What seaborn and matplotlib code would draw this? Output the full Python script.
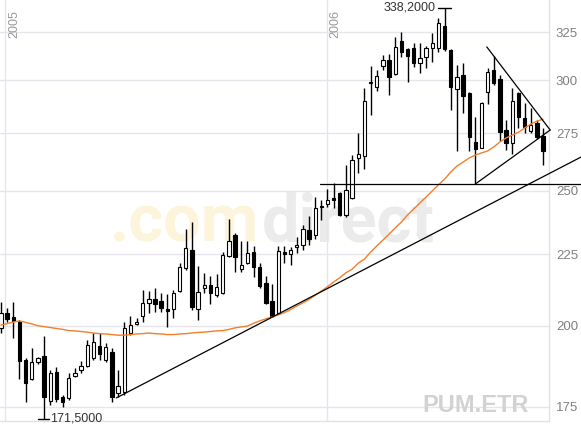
import numpy as np
import pandas as pd
import matplotlib
matplotlib.use("Agg")
import matplotlib.pyplot as plt
import matplotlib.dates as mdates
from matplotlib.ticker import NullLocator
import seaborn as sns

# weekly candles PUM.ETR, first week starts 27.12.2004
start = "2004-12-27"
opens = [199.3, 204.2, 202.9, 201.2, 189.0, 183.2, 188.4, 190.3, 176.6, 185.3,
         177.8, 177.5, 184.1, 185.9, 187.1, 189.6, 193.4, 189.0, 191.5, 179.0,
         179.3, 197.6, 200.6, 203.2, 207.7, 209.1, 208.4, 205.7, 205.7, 211.8,
         220.0, 226.7, 205.7, 212.9, 213.9, 210.5, 211.1, 224.4, 232.3, 219.6,
         221.8, 225.9, 220.4, 214.6, 208.4, 204.2, 225.9, 225.2, 227.8, 228.5,
         234.3, 232.3, 243.8, 244.6, 246.9, 249.0, 240.2, 246.9, 263.9, 264.7,
         298.5, 296.8, 307.3, 310.3, 303.2, 320.2, 316.0, 316.5, 309.0, 311.9,
         316.5, 316.5, 328.3, 315.5, 295.8, 302.7, 293.9, 271.0, 268.3, 294.3,
         305.2, 300.7, 276.4, 270.6, 293.9, 281.9, 276.0, 279.5, 273.7]
highs = [208.0, 206.0, 208.0, 201.9, 189.6, 192.7, 190.0, 196.6, 185.9, 186.8,
         178.4, 185.0, 186.5, 188.7, 195.3, 197.6, 197.6, 194.4, 192.7, 185.9,
         201.2, 203.2, 202.6, 212.2, 211.9, 212.9, 211.1, 210.8, 212.2, 221.8,
         234.7, 237.4, 220.7, 218.2, 217.1, 217.8, 225.9, 238.6, 233.0, 230.0,
         230.0, 228.2, 221.8, 217.1, 214.3, 228.2, 228.2, 227.8, 231.5, 236.3,
         239.8, 247.4, 246.2, 250.7, 253.2, 249.5, 260.9, 265.2, 275.0, 296.3,
         307.3, 305.2, 312.9, 313.4, 322.4, 325.0, 316.3, 319.1, 319.1, 317.6,
         324.5, 332.6, 338.2, 315.8, 307.8, 308.8, 294.2, 282.4, 289.3, 306.3,
         312.5, 302.7, 281.0, 296.3, 294.2, 289.1, 286.7, 281.0, 277.3]
lows = [197.6, 201.2, 196.0, 183.2, 176.3, 182.9, 187.7, 171.5, 175.5, 176.3,
        174.9, 176.9, 183.8, 185.0, 186.8, 189.0, 189.0, 188.4, 176.3, 177.8,
        178.4, 196.9, 200.2, 201.2, 204.2, 204.6, 204.6, 199.6, 202.6, 211.5,
        219.3, 205.3, 201.9, 211.1, 207.3, 209.8, 210.8, 224.1, 218.6, 218.6,
        221.5, 216.8, 212.9, 207.3, 202.9, 203.9, 221.8, 221.1, 225.5, 226.7,
        228.5, 230.8, 238.2, 243.4, 243.0, 239.8, 239.4, 246.5, 257.4, 259.1,
        283.3, 294.8, 305.2, 292.7, 302.7, 312.0, 299.2, 306.8, 303.7, 306.3,
        309.3, 314.5, 315.0, 285.7, 267.0, 284.3, 266.9, 253.0, 268.1, 288.6,
        297.6, 271.4, 267.4, 265.6, 277.3, 275.0, 275.0, 272.3, 260.9]
closes = [204.2, 202.2, 201.6, 188.7, 182.0, 188.4, 189.6, 177.8, 185.0, 177.2,
          176.3, 183.5, 185.0, 187.1, 193.7, 194.7, 190.9, 193.1, 177.8, 181.1,
          199.3, 200.2, 201.2, 207.7, 209.1, 207.3, 206.0, 205.0, 211.1, 220.4,
          227.4, 206.3, 211.5, 213.9, 211.1, 213.2, 224.8, 230.0, 224.1, 221.1,
          225.5, 220.4, 213.6, 207.7, 203.2, 226.3, 225.2, 226.7, 228.5, 234.7,
          230.8, 243.0, 243.4, 246.2, 246.4, 240.2, 250.3, 263.1, 265.6, 290.0,
          299.2, 302.2, 310.3, 301.7, 317.1, 314.5, 312.5, 308.8, 311.4, 316.5,
          319.1, 329.9, 316.0, 296.8, 301.7, 292.2, 273.3, 267.9, 289.1, 304.2,
          298.5, 275.4, 270.6, 290.0, 282.4, 277.7, 278.6, 273.3, 266.9]
ma = [200.2, 200.7, 201.2, 201.6, 201.1, 200.6, 200.0, 199.7, 199.4, 199.1,
      198.8, 198.4, 198.3, 198.1, 197.9, 197.6, 197.4, 197.3, 197.1, 196.9,
      196.9, 197.1, 197.3, 197.4, 197.6, 197.4, 197.3, 197.1, 197.1, 197.3,
      197.4, 197.6, 197.8, 197.9, 198.1, 198.3, 198.4, 198.8, 199.3, 199.6,
      199.9, 200.8, 201.6, 202.3, 202.9, 203.6, 204.4, 205.4, 206.6, 207.7,
      208.9, 210.3, 211.8, 213.3, 215.0, 216.5, 218.3, 219.6, 221.8, 223.3,
      225.9, 228.2, 230.4, 232.7, 235.1, 237.4, 240.2, 242.6, 245.0, 247.4,
      249.9, 252.4, 254.8, 257.8, 260.4, 262.1, 263.9, 265.2, 266.1, 267.0,
      268.8, 271.0, 272.8, 274.1, 275.4, 277.3, 279.1, 280.5, 281.4]

yticks = [175, 200, 225, 250, 275, 300, 325]
years = ["2005-01-01", "2006-01-01"]
year_labels = ["2005", "2006"]

# drawn trend lines (date, price)
support_dates = ["2005-05-07", "2006-10-17"]
support_prices = [177.5, 264.3]
level_dates = ["2005-12-24", "2006-10-17"]
level_prices = [252.8, 252.8]
upper_dates = ["2006-07-02", "2006-09-12"]
upper_prices = [317.1, 276.4]
lower_dates = ["2006-06-19", "2006-09-12"]
lower_prices = [252.8, 276.4]

dates = pd.date_range(start, periods=len(opens), freq="7D")
df = pd.DataFrame({"date": dates, "open": opens, "high": highs,
                   "low": lows, "close": closes, "ma": ma})
df["x"] = mdates.date2num(df["date"])
up = df["close"] >= df["open"]

sns.set_style("white")
plt.rcParams["font.family"] = ["Liberation Sans", "DejaVu Sans"]
W, H = 581, 425
fig = plt.figure(figsize=(W / 100, H / 100), dpi=100)
fig.patch.set_facecolor("white")
ax = fig.add_axes([0, 4 / H, 549 / W, 421 / H])
ax.set_facecolor("white")

x0 = mdates.date2num(pd.Timestamp(start))
ax.set_xlim(x0 - 1.14, x0 + 622.7)
ax.set_yscale("log")
ax.set_ylim(170.86, 342.66)

grid_c = "#e8e4ec"
ax.set_yticks(yticks, labels=[str(t) for t in yticks])
ax.yaxis.set_minor_locator(NullLocator())
ax.yaxis.tick_right()
ax.tick_params(axis="y", length=0, pad=5, labelsize=9.5, labelcolor="#808080")
ax.set_xticks([])
ax.grid(axis="y", color=grid_c, lw=1)
for yr in years:
    ax.axvline(mdates.date2num(pd.Timestamp(yr)), color=grid_c, lw=1, zorder=0.5)
for s in ["top", "left"]:
    ax.spines[s].set_visible(False)
for s in ["right", "bottom"]:
    ax.spines[s].set_color("#e2e2e2")
    ax.spines[s].set_linewidth(1)

# watermark
ax.text(110 / 549, (421 - 242) / 421, ".com", transform=ax.transAxes,
        fontsize=48, fontweight="bold", family="Roboto", color="#fdf4dc",
        va="baseline", ha="left", zorder=0.3)
ax.text(262 / 549, (421 - 242) / 421, "direct", transform=ax.transAxes,
        fontsize=48, fontweight="bold", family="Roboto", color="#ebebeb",
        va="baseline", ha="left", zorder=0.3)

# candles
ax.vlines(df["x"], df["low"], df["high"], color="black", lw=1, zorder=3)
bottoms = np.minimum(df["open"], df["close"])
heights = np.abs(df["close"] - df["open"])
ax.bar(df["x"], heights, bottom=bottoms, width=3.8,
       color=np.where(up, "white", "black"), edgecolor="black",
       linewidth=0.8, zorder=4)

# moving average
sns.lineplot(data=df, x="x", y="ma", ax=ax, color="#f47f2b", lw=1.0, zorder=5)
ax.set_xlabel("")
ax.set_ylabel("")

# trend lines
for d, p in [(support_dates, support_prices), (level_dates, level_prices),
             (upper_dates, upper_prices), (lower_dates, lower_prices)]:
    ax.plot(mdates.date2num(pd.to_datetime(d)), p, color="black",
            lw=0.9, zorder=6, clip_on=False)

# year labels
for yr, lab in zip(years, year_labels):
    ax.annotate(lab, xy=(mdates.date2num(pd.Timestamp(yr)), 1.0),
                xycoords=ax.get_xaxis_transform(), xytext=(3, -10),
                textcoords="offset pixels", rotation=90, ha="left", va="top",
                fontsize=9, color="#9a9a9a")

# high / low markers
i_hi = int(np.argmax(highs))
i_lo = int(np.argmin(lows))
xh = df["x"][i_hi]
xl = df["x"][i_lo]
ax.plot([xh - 7, xh + 7], [highs[i_hi]] * 2, color="black", lw=1,
        clip_on=False, zorder=6)
ax.annotate(f"{highs[i_hi]:.4f}".replace(".", ","), xy=(xh, highs[i_hi]),
            xytext=(-9, 0), textcoords="offset pixels", ha="right",
            va="center", fontsize=9, color="#333333")
ax.plot([xl - 7, xl + 5], [lows[i_lo]] * 2, color="black", lw=1,
        clip_on=False, zorder=6)
ax.annotate(f"{lows[i_lo]:.4f}".replace(".", ","), xy=(xl, lows[i_lo]),
            xytext=(6, 0), textcoords="offset pixels", ha="left",
            va="center", fontsize=9, color="#333333")

fig.text(476 / W, 1 - 406 / H, "PUM.ETR", ha="center", va="center",
         fontsize=17, fontweight="bold", color="#d2d2d2")

fig.savefig("out.png", dpi=100)
